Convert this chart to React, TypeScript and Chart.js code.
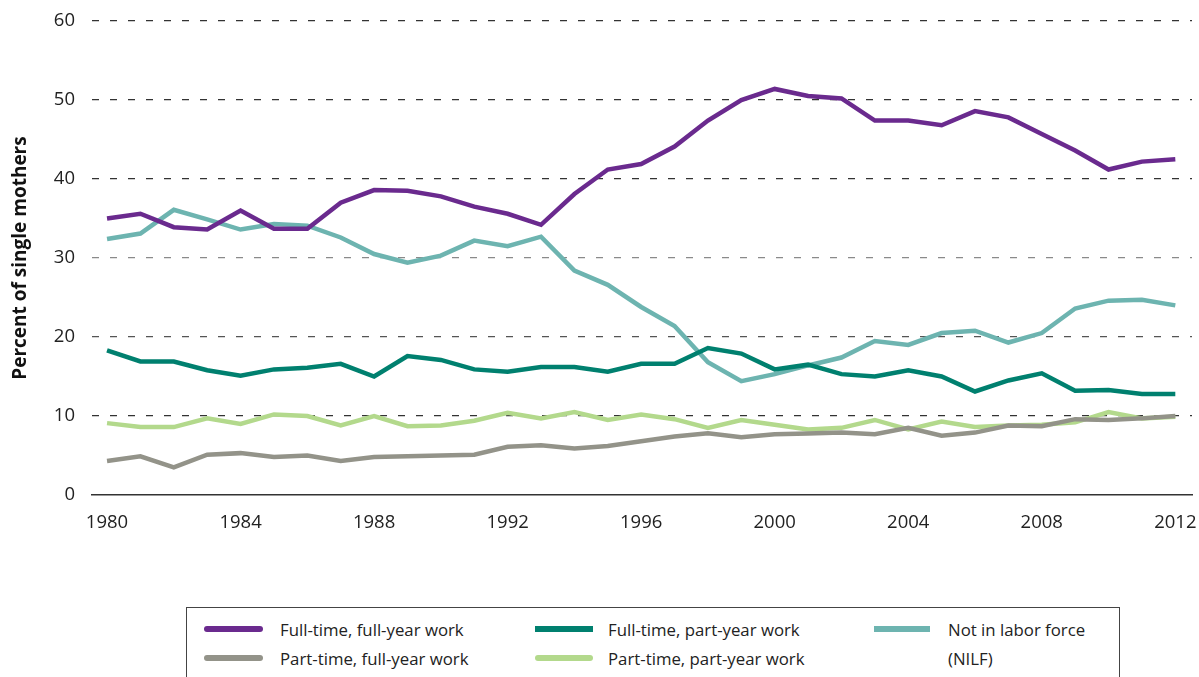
import React, { useEffect, useRef } from "react";
import { Chart, registerables } from "chart.js";

Chart.register(...registerables);

const years = [
  1980, 1981, 1982, 1983, 1984, 1985, 1986, 1987, 1988, 1989, 1990,
  1991, 1992, 1993, 1994, 1995, 1996, 1997, 1998, 1999, 2000, 2001,
  2002, 2003, 2004, 2005, 2006, 2007, 2008, 2009, 2010, 2011, 2012,
];

const fullTimeFullYear = [
  35.0, 35.6, 33.9, 33.6, 36.0, 33.7, 33.7, 37.0, 38.6, 38.5, 37.8,
  36.5, 35.6, 34.2, 38.1, 41.2, 41.9, 44.1, 47.4, 50.0, 51.4, 50.5,
  50.2, 47.4, 47.4, 46.8, 48.6, 47.8, 45.7, 43.6, 41.2, 42.2, 42.5,
];

const fullTimePartYear = [
  18.3, 16.9, 16.9, 15.8, 15.1, 15.9, 16.1, 16.6, 15.0, 17.6, 17.1,
  15.9, 15.6, 16.2, 16.2, 15.6, 16.6, 16.6, 18.6, 17.9, 15.9, 16.5,
  15.3, 15.0, 15.8, 15.0, 13.1, 14.5, 15.4, 13.2, 13.3, 12.8, 12.8,
];

const notInLaborForce = [
  32.4, 33.1, 36.1, 34.9, 33.6, 34.3, 34.1, 32.6, 30.5, 29.4, 30.3,
  32.2, 31.5, 32.7, 28.4, 26.6, 23.8, 21.4, 16.8, 14.4, 15.3, 16.4,
  17.4, 19.5, 19.0, 20.5, 20.8, 19.3, 20.5, 23.6, 24.6, 24.7, 24.0,
];

const partTimeFullYear = [
  4.3, 4.9, 3.5, 5.1, 5.3, 4.8, 5.0, 4.3, 4.8, 4.9, 5.0,
  5.1, 6.1, 6.3, 5.9, 6.2, 6.8, 7.4, 7.8, 7.3, 7.7, 7.8,
  7.9, 7.7, 8.5, 7.5, 7.9, 8.8, 8.7, 9.6, 9.5, 9.7, 10.0,
];

const partTimePartYear = [
  9.1, 8.6, 8.6, 9.7, 9.0, 10.2, 10.0, 8.8, 10.0, 8.7, 8.8,
  9.4, 10.4, 9.7, 10.5, 9.5, 10.2, 9.6, 8.5, 9.5, 8.9, 8.3,
  8.5, 9.5, 8.3, 9.3, 8.6, 8.8, 8.9, 9.2, 10.5, 9.7, 9.9,
];

const xTickYears = [1980, 1984, 1988, 1992, 1996, 2000, 2004, 2008, 2012];
const yTickValues = [0, 10, 20, 30, 40, 50, 60];

const seriesLabels = {
  ftfy: "Full-time, full-year work",
  ftpy: "Full-time, part-year work",
  nilf: "Not in labor force (NILF)",
  ptfy: "Part-time, full-year work",
  ptpy: "Part-time, part-year work",
};

const colors = {
  ftfy: "#6a2a8e",
  ftpy: "#00806f",
  nilf: "#6db4b0",
  ptfy: "#939389",
  ptpy: "#b3d98c",
};

const toPoints = (vals: number[]) => years.map((x, i) => ({ x, y: vals[i] }));

const FONT = "'Open Sans', 'Noto Sans', sans-serif";

export default function App() {
  const ref = useRef<HTMLCanvasElement>(null);

  useEffect(() => {
    const mk = (label: string, color: string, vals: number[]) => ({
      label,
      data: toPoints(vals),
      borderColor: color,
      backgroundColor: color,
      borderWidth: 4.5,
      pointRadius: 0,
      pointHoverRadius: 0,
      tension: 0,
      fill: false,
      borderJoinStyle: "miter" as const,
    });
    const chart = new Chart(ref.current!, {
      type: "line",
      data: {
        datasets: [
          mk(seriesLabels.ftfy, colors.ftfy, fullTimeFullYear),
          mk(seriesLabels.ftpy, colors.ftpy, fullTimePartYear),
          mk(seriesLabels.ptfy, colors.ptfy, partTimeFullYear),
          mk(seriesLabels.ptpy, colors.ptpy, partTimePartYear),
          mk(seriesLabels.nilf, colors.nilf, notInLaborForce),
        ],
      },
      options: {
        animation: false,
        responsive: true,
        maintainAspectRatio: false,
        events: [],
        layout: { padding: { top: 21, right: 7, left: 0, bottom: 0 } },
        plugins: {
          legend: { display: false },
          tooltip: { enabled: false },
        },
        scales: {
          x: {
            type: "linear",
            min: 1979.55,
            max: 2012.5,
            grid: { display: false, drawTicks: false },
            border: { display: true, color: "#333333", width: 1.6 },
            ticks: {
              padding: 17,
              color: "#222222",
              font: { family: FONT, size: 18.5 },
              maxRotation: 0,
              autoSkip: false,
              callback: (v: any) => String(v),
            },
            afterBuildTicks: (s: any) => {
              s.ticks = xTickYears.map((value) => ({ value }));
            },
            afterFit: (s: any) => {
              s.height = 45;
              s.paddingLeft = 0;
              s.paddingRight = 0;
            },
          },
          y: {
            min: 0,
            max: 60,
            border: { display: false, dash: [7, 11] },
            grid: {
              drawTicks: false,
              lineWidth: 1.3,
              color: (ctx: any) => {
                const v = ctx.tick ? ctx.tick.value : null;
                if (v === 0) return "rgba(0,0,0,0)";
                if (v === 30) return "#8a8a8a";
                if (v === 20) return "#555555";
                return "#333333";
              },
            },
            ticks: {
              padding: 17,
              color: "#222222",
              font: { family: FONT, size: 18.5 },
              callback: (v: any) => String(v),
            },
            afterBuildTicks: (s: any) => {
              s.ticks = yTickValues.map((value) => ({ value }));
            },
            afterFit: (s: any) => {
              s.width = 92;
              s.paddingTop = 0;
              s.paddingBottom = 0;
            },
            title: {
              display: true,
              text: "Percent of single mothers",
              color: "#111111",
              font: { family: FONT, size: 19, weight: "bold" },
              padding: { top: 9, bottom: 0 },
            },
          },
        },
      },
    });
    return () => chart.destroy();
  }, []);

  const swatch = (left: number, top: number, width: number, color: string, round: boolean) => (
    <div
      style={{
        position: "absolute",
        left,
        top: top - 3,
        width,
        height: 6,
        borderRadius: round ? 3 : 0,
        background: color,
      }}
    />
  );

  const text = (left: number, top: number, content: React.ReactNode) => (
    <div
      style={{
        position: "absolute",
        left,
        top: top - 14.5,
        lineHeight: "29px",
        fontFamily: FONT,
        fontSize: 16.8,
        color: "#222222",
        whiteSpace: "nowrap",
      }}
    >
      {content}
    </div>
  );

  return (
    <div
      style={{
        position: "fixed",
        left: 0,
        top: 0,
        width: 1199,
        height: 677,
        overflow: "hidden",
        background: "#ffffff",
      }}
    >
      <div style={{ position: "absolute", left: 0, top: 0, width: 1199, height: 540 }}>
        <canvas ref={ref} />
      </div>
      <div
        style={{
          position: "absolute",
          left: 186,
          top: 607,
          width: 934,
          height: 100,
          border: "1.5px solid #444444",
          boxSizing: "border-box",
        }}
      />
      {swatch(204, 629, 59, colors.ftfy, true)}
      {text(280, 629, seriesLabels.ftfy)}
      {swatch(204, 658, 59, colors.ptfy, true)}
      {text(280, 658, seriesLabels.ptfy)}
      {swatch(535, 629, 58, colors.ftpy, false)}
      {text(608, 629, seriesLabels.ftpy)}
      {swatch(535, 658, 58, colors.ptpy, true)}
      {text(608, 658, seriesLabels.ptpy)}
      {swatch(874, 629, 56, colors.nilf, false)}
      {text(948, 629, <>Not in labor force<br />(NILF)</>)}
    </div>
  );
}
